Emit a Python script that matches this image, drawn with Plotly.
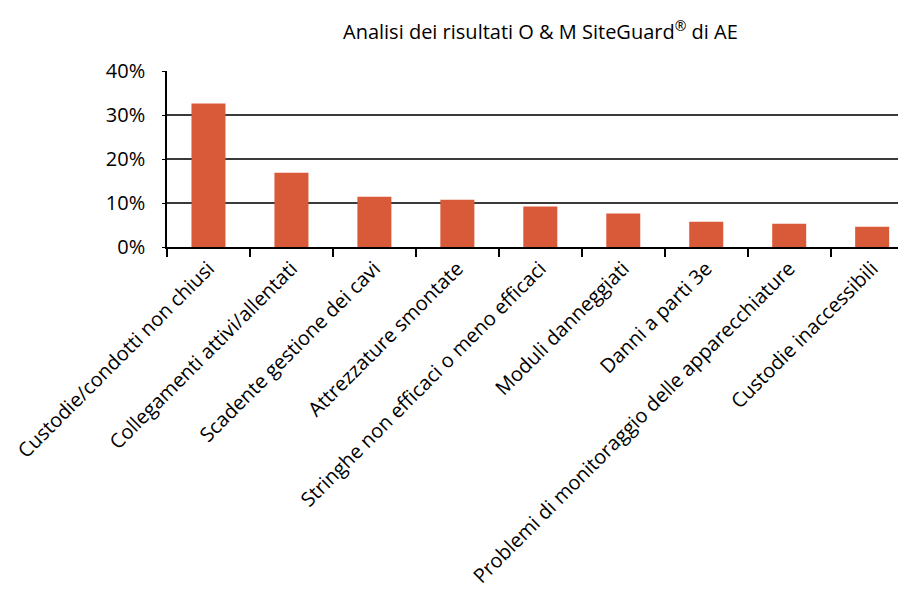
import plotly.graph_objects as go

categories = [
    "Custodie/condotti non chiusi",
    "Collegamenti attivi/allentati",
    "Scadente gestione dei cavi",
    "Attrezzature smontate",
    "Stringhe non efficaci o meno efficaci",
    "Moduli danneggiati",
    "Danni a parti 3e",
    "Problemi di monitoraggio delle apparecchiature",
    "Custodie inaccessibili",
]
values = [0.326, 0.169, 0.114, 0.1075, 0.092, 0.076, 0.0575, 0.053, 0.046]
y_ticks = [0, 0.1, 0.2, 0.3, 0.4]
y_tick_labels = ["0%", "10%", "20%", "30%", "40%"]
title_text = "Analisi dei risultati O & M SiteGuard<sup>®</sup> di AE"

FONT = "Open Sans"

fig = go.Figure(
    go.Bar(
        x=categories,
        y=values,
        marker=dict(color="#D95A38", line=dict(width=0)),
    )
)

# page body adds an 8px margin, so the figure is shifted accordingly
fig.update_layout(
    width=898,
    height=593,
    margin=dict(l=159, r=0, t=63, b=354),
    paper_bgcolor="white",
    plot_bgcolor="white",
    bargap=0.59,
    showlegend=False,
    font=dict(family=FONT, size=20, color="black"),
    annotations=[
        dict(
            text=title_text,
            xref="paper", yref="paper",
            x=0.505, y=1.0, yshift=41,
            xanchor="center", yanchor="middle",
            showarrow=False,
            font=dict(family=FONT, size=20, color="black"),
        )
    ],
)

fig.update_xaxes(
    type="category",
    range=[-0.5, 8.408],
    tickangle=-45,
    ticks="outside",
    tickson="boundaries",
    ticklen=8,
    tickwidth=1.5,
    tickcolor="black",
    showline=True,
    linecolor="black",
    linewidth=1.8,
    showgrid=False,
    tickfont=dict(family=FONT, size=20, color="black"),
)

fig.update_yaxes(
    range=[0, 0.4],
    tickvals=y_ticks,
    ticktext=y_tick_labels,
    ticks="outside",
    ticklen=3,
    tickcolor="black",
    showline=True,
    linecolor="black",
    linewidth=1.5,
    showgrid=True,
    gridcolor="#3a3a3a",
    gridwidth=1.6,
    zeroline=False,
    tickfont=dict(family=FONT, size=20, color="black"),
    ticklabelstandoff=13,
)

fig.write_html("out.html")
